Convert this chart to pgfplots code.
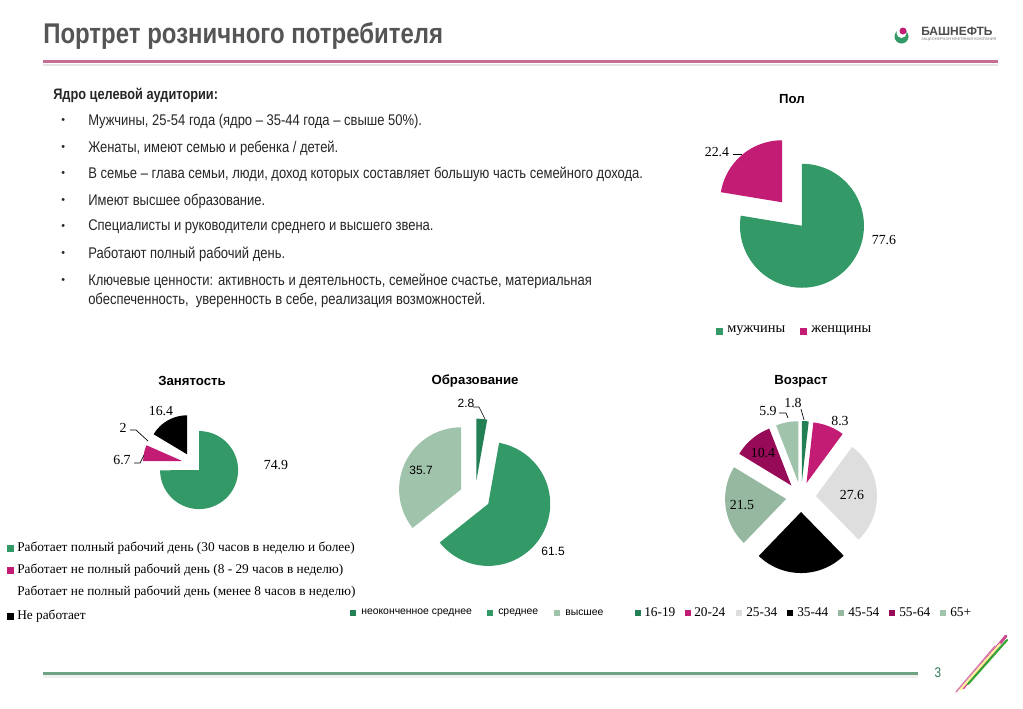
\documentclass[border=0pt]{standalone}
\usepackage{pgfplots}
\pgfplotsset{compat=1.18}
\usepackage{fontspec}
\setmainfont{Liberation Sans}
\newfontfamily\narrow[FakeStretch=0.84]{Liberation Sans}
\newfontfamily\ser{Liberation Serif}
\definecolor{pgreen}{RGB}{51,153,102}
\definecolor{pmag}{RGB}{194,28,116}
\definecolor{pdgreen}{RGB}{34,128,84}
\definecolor{plgreen}{RGB}{160,195,172}
\definecolor{pggreen}{RGB}{150,184,160}
\definecolor{plgray}{RGB}{222,222,222}
\definecolor{pdmag}{RGB}{150,10,88}
\definecolor{titlegray}{RGB}{85,85,87}
\definecolor{linepink}{RGB}{196,110,150}
\definecolor{linegreen}{RGB}{112,162,132}
\newcommand{\piestart}[4]{\xdef\pcx{#1}\xdef\pcy{#2}\xdef\pd{#3}\xdef\pr{#4}\xdef\pcum{0}}
\newcommand{\slice}[2]{%
  \pgfmathsetmacro\aone{90-3.6*\pcum}%
  \pgfmathsetmacro\atwo{90-3.6*(\pcum+#1)}%
  \pgfmathsetmacro\abis{(\aone+\atwo)/2}%
  \pgfmathsetmacro\vx{\pcx+\pd*cos(\abis)}%
  \pgfmathsetmacro\vy{\pcy-\pd*sin(\abis)}%
  \edef\doslice{\noexpand\addplot[fill=#2,draw=none,no markers,domain=\atwo:\aone,samples=80,forget plot] ({\vx+\pr*cos(x)},{\vy-\pr*sin(x)}) -- (axis cs:\vx,\vy) -- cycle;}%
  \doslice
  \pgfmathsetmacro\newcum{\pcum+#1}\xdef\pcum{\newcum}%
}
\begin{document}
\begin{tikzpicture}
\fill[white] (0,0) rectangle (767.25pt,-531pt);
\begin{axis}[at={(0,0)},anchor=north west,scale only axis,width=767.25pt,height=531pt,
  xmin=0,xmax=1023,ymin=0,ymax=708,y dir=reverse,hide axis,clip=false]
% Pol
\piestart{792}{214}{15.4}{62}
\slice{77.6}{pgreen}
\slice{22.4}{pmag}
% Zanyatost
\piestart{192}{463}{10}{39}
\slice{74.9}{pgreen}
\slice{6.7}{pmag}
\slice{2.0}{white}
\slice{16.4}{black}
% Obrazovanie
\piestart{475}{496}{15.4}{62}
\slice{2.8}{pdgreen}
\slice{61.5}{pgreen}
\slice{35.7}{plgreen}
% Vozrast
\piestart{801}{497}{15}{61}
\slice{1.8}{pdgreen}
\slice{8.3}{pmag}
\slice{27.6}{plgray}
\slice{24.5}{black}
\slice{21.5}{pggreen}
\slice{10.4}{pdmag}
\slice{5.9}{plgreen}
\end{axis}
\begin{scope}[x=0.75pt,y=-0.75pt]
% header
\node[anchor=west,text=titlegray,inner sep=0] at (43,36) {\narrow\fontsize{21.4pt}{23pt}\selectfont\bfseries Портрет розничного потребителя};
\fill[black!10] (43,63.5) rectangle (998,65.5);
\fill[linepink] (43,59.5) rectangle (998,63);
% logo
\fill[pgreen] (901.5,36.5) circle (7);
\fill[white] (901.5,33) circle (5);
\fill[pmag] (903,31) circle (3.5);
\node[anchor=west,inner sep=0,text=black!70] at (921,31.5) {\fontsize{9pt}{10pt}\selectfont\bfseries БАШНЕФТЬ};
\node[anchor=west,inner sep=0,text=black!50] at (921,40) {\fontsize{2.9pt}{3pt}\selectfont АКЦИОНЕРНАЯ НЕФТЯНАЯ КОМПАНИЯ};
% body text
\begin{scope}[every node/.style={anchor=west,inner sep=0,text=black!85}]
\node at (53,95) {\narrow\fontsize{11.4pt}{12pt}\selectfont\bfseries Ядро целевой аудитории:};
\foreach \yy in {121,148,174,201,227,254,281} {\node at (61,\yy) {\fontsize{8pt}{9pt}\selectfont •};}
\node at (88,121) {\narrow\fontsize{11.6pt}{12pt}\selectfont Мужчины, 25-54 года (ядро – 35-44 года – свыше 50\%).};
\node at (88,148) {\narrow\fontsize{11.6pt}{12pt}\selectfont Женаты, имеют семью и ребенка / детей.};
\node at (88,174) {\narrow\fontsize{11.6pt}{12pt}\selectfont В семье – глава семьи, люди, доход которых составляет большую часть семейного дохода.};
\node at (88,201) {\narrow\fontsize{11.6pt}{12pt}\selectfont Имеют высшее образование.};
\node at (88,227) {\narrow\fontsize{11.6pt}{12pt}\selectfont Специалисты и руководители среднего и высшего звена.};
\node at (88,254) {\narrow\fontsize{11.6pt}{12pt}\selectfont Работают полный рабочий день.};
\node at (88,281) {\narrow\fontsize{11.6pt}{12pt}\selectfont Ключевые ценности: активность и деятельность, семейное счастье, материальная};
\node at (88,300) {\narrow\fontsize{11.6pt}{12pt}\selectfont обеспеченность,\ \ уверенность в себе, реализация возможностей.};
\end{scope}
% pie titles
\node at (792,99) {\fontsize{9.9pt}{12pt}\selectfont\bfseries Пол};
\node at (192,381) {\fontsize{9.9pt}{12pt}\selectfont\bfseries Занятость};
\node at (475,381) {\fontsize{9.9pt}{12pt}\selectfont\bfseries Образование};
\node at (801,381) {\fontsize{9.9pt}{12pt}\selectfont\bfseries Возраст};
% data labels
\begin{scope}[every node/.style={inner sep=0,font=\ser\fontsize{10.4pt}{11pt}\selectfont}]
\node at (717,152) {22.4};
\draw[black,line width=0.5pt] (733,154) -- (742,154);
\node at (884,240) {77.6};
\node at (161,411) {16.4};
\node at (123,428) {2};
\draw[black,line width=0.5pt] (130,430) -- (136,430) -- (148,441);
\node at (122,460) {6.7};
\draw[black,line width=0.5pt] (134,463) -- (140,463) -- (144,455);
\node at (276,465) {74.9};
\node at (768,411) {5.9};
\draw[black,line width=0.5pt] (779,413) -- (786,413) -- (788,418);
\node at (793,403) {1.8};
\draw[black,line width=0.5pt] (801,409) -- (804,420);
\node at (840,421) {8.3};
\node at (852,495) {27.6};
\node at (742,505) {21.5};
\node at (763,453) {10.4};
\end{scope}
\begin{scope}[every node/.style={inner sep=0,font=\fontsize{9pt}{10pt}\selectfont}]
\node at (466,403) {2.8};
\draw[black,line width=0.5pt] (473,407) -- (479,407) -- (485,419);
\node at (421,470) {35.7};
\node at (553,551) {61.5};
\end{scope}
% legends
\begin{scope}[every node/.style={anchor=west,inner sep=0,font=\ser\fontsize{10.8pt}{11pt}\selectfont}]
\fill[pgreen] (716,327.5) rectangle (723,334.5); \node at (727,331) {мужчины};
\fill[pmag] (800,327.5) rectangle (807,334.5); \node at (811,331) {женщины};
\end{scope}
\begin{scope}[every node/.style={anchor=west,inner sep=0,font=\ser\fontsize{10pt}{11pt}\selectfont}]
\fill[pgreen] (7,545) rectangle (14,552); \node at (17,548.5) {Работает полный рабочий день (30 часов в неделю и более)};
\fill[pmag] (7,567) rectangle (14,574); \node at (17,570.5) {Работает не полный рабочий день (8 - 29 часов в неделю)};
\node at (17,592.5) {Работает не полный рабочий день (менее 8 часов в неделю)};
\fill[black] (7,612.5) rectangle (14,619.5); \node at (17,616) {Не работает};
\end{scope}
\begin{scope}[every node/.style={anchor=west,inner sep=0,font=\fontsize{7.8pt}{8pt}\selectfont}]
\fill[pdgreen] (350,609.5) rectangle (356,615.5); \node at (361,612.5) {неоконченное среднее};
\fill[pgreen] (487,609.5) rectangle (493,615.5); \node at (498,612.5) {среднее};
\fill[plgreen] (554,609.5) rectangle (560,615.5); \node at (565,612.5) {высшее};
\end{scope}
\begin{scope}[every node/.style={anchor=west,inner sep=0,font=\ser\fontsize{10pt}{10pt}\selectfont}]
\fill[pdgreen] (635,609.5) rectangle (641,615.5); \node at (644,612.5) {16-19};
\fill[pmag] (685,609.5) rectangle (691,615.5); \node at (694,612.5) {20-24};
\fill[plgray] (736,609.5) rectangle (742,615.5); \node at (746,612.5) {25-34};
\fill[black] (787,609.5) rectangle (793,615.5); \node at (797,612.5) {35-44};
\fill[pggreen] (838,609.5) rectangle (844,615.5); \node at (848,612.5) {45-54};
\fill[pdmag] (889,609.5) rectangle (895,615.5); \node at (899,612.5) {55-64};
\fill[plgreen] (940,609.5) rectangle (946,615.5); \node at (950,612.5) {65+};
\end{scope}
% footer
\fill[black!6] (43,675) rectangle (918,678);
\fill[linegreen] (43,671.5) rectangle (918,675);
\node[text=pgreen!80!black,inner sep=0] at (938,673) {\narrow\fontsize{10.5pt}{11pt}\selectfont 3};
\draw[line width=2.2pt,pmag!80,line cap=round] (963,688) -- (1006,636);
\draw[line width=1.6pt,green!55!black!80,line cap=round] (968,684) -- (1007,640);
\draw[line width=1.4pt,yellow!40!white,line cap=round] (960,690) -- (1000,644);
\draw[line width=1pt,pmag!60,line cap=round] (956,692) -- (995,646);
\end{scope}
\end{tikzpicture}
\end{document}
